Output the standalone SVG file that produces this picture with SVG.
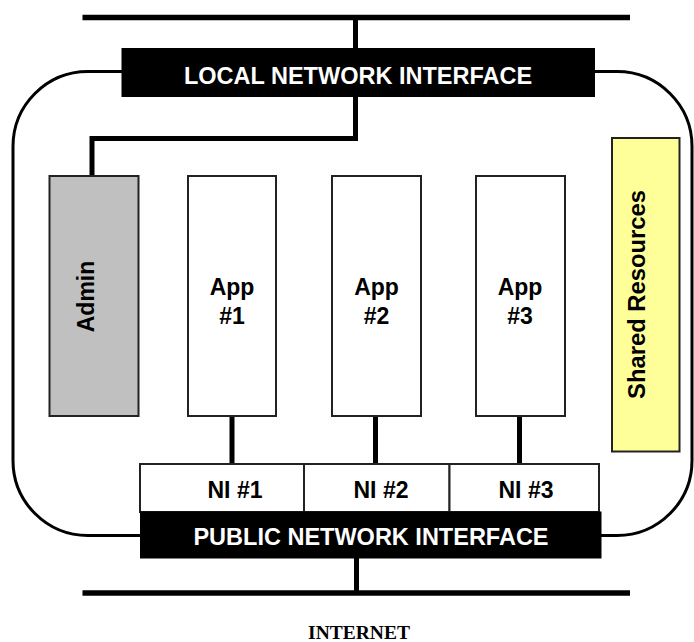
<svg xmlns="http://www.w3.org/2000/svg" width="694" height="642" viewBox="0 0 694 642">
  <style>
    .bus { stroke: #000; stroke-width: 5.5; fill: none; }
    .wire { stroke: #000; stroke-width: 5; fill: none; stroke-linejoin: miter; }
    .frame { stroke: #000; stroke-width: 3; fill: none; }
    .box { stroke: #222; stroke-width: 2; }
    .iface { fill: #000; }
    .iface-label { font-family: "Liberation Sans", Arial, sans-serif; font-weight: bold; font-size: 23.5px; fill: #fff; text-anchor: middle; }
    .label { font-family: "Liberation Sans", Arial, sans-serif; font-weight: bold; font-size: 23px; fill: #000; text-anchor: middle; }
    .net { font-family: "Liberation Serif", "Times New Roman", serif; font-weight: bold; font-size: 19.5px; fill: #000; text-anchor: middle; }
  </style>

  <!-- host boundary -->
  <rect class="frame" x="13" y="71.5" width="679" height="464" rx="75" ry="75"/>

  <!-- connectors -->
  <g id="connectors">
    <line class="bus" x1="82.5" y1="17.5" x2="630" y2="17.5"/>
    <line class="bus" x1="82.5" y1="593" x2="630" y2="593"/>
    <line class="wire" x1="355.5" y1="17.5" x2="355.5" y2="50"/>
    <polyline class="wire" points="355.5,95 355.5,138.5 92,138.5 92,177"/>
    <line class="wire" x1="232" y1="415" x2="232" y2="465"/>
    <line class="wire" x1="375.5" y1="415" x2="375.5" y2="465"/>
    <line class="wire" x1="519.5" y1="415" x2="519.5" y2="465"/>
    <line class="wire" x1="356.5" y1="557" x2="356.5" y2="593"/>
  </g>

  <g id="local-interface">
    <rect class="iface" x="121.5" y="48" width="473.5" height="49"/>
    <text class="iface-label" x="358" y="84">LOCAL NETWORK INTERFACE</text>
  </g>

  <g id="admin">
    <rect class="box" x="49.5" y="176" width="89" height="240" fill="#c0c0c0"/>
    <text class="label" transform="translate(94,296.5) rotate(-90)" x="0" y="0">Admin</text>
  </g>

  <g id="app1">
    <rect class="box" x="188" y="176" width="88" height="240" fill="#fff"/>
    <text class="label" x="232" y="295">App</text>
    <text class="label" x="232" y="324">#1</text>
  </g>

  <g id="app2">
    <rect class="box" x="332" y="176" width="89" height="240" fill="#fff"/>
    <text class="label" x="376.5" y="295">App</text>
    <text class="label" x="376.5" y="324">#2</text>
  </g>

  <g id="app3">
    <rect class="box" x="476" y="176" width="89" height="240" fill="#fff"/>
    <text class="label" x="520" y="295">App</text>
    <text class="label" x="520" y="324">#3</text>
  </g>

  <g id="shared-resources">
    <rect class="box" x="612" y="138" width="67.5" height="313.5" fill="#ffff99"/>
    <text class="label" transform="translate(645,294.5) rotate(-90)" x="0" y="0" style="font-size:23.8px">Shared Resources</text>
  </g>

  <g id="ni1">
    <rect class="box" x="140" y="464" width="164" height="48" fill="#fff"/>
    <text class="label" x="235" y="498">NI #1</text>
  </g>
  <g id="ni2">
    <rect class="box" x="304" y="464" width="145.5" height="48" fill="#fff"/>
    <text class="label" x="381" y="498">NI #2</text>
  </g>
  <g id="ni3">
    <rect class="box" x="449.5" y="464" width="149.5" height="48" fill="#fff"/>
    <text class="label" x="526" y="498">NI #3</text>
  </g>

  <g id="public-interface">
    <rect class="iface" x="140" y="511.5" width="461.5" height="47"/>
    <text class="iface-label" x="371" y="545">PUBLIC NETWORK INTERFACE</text>
  </g>

  <g id="internet">
    <text class="net" x="359" y="639">INTERNET</text>
  </g>
</svg>
